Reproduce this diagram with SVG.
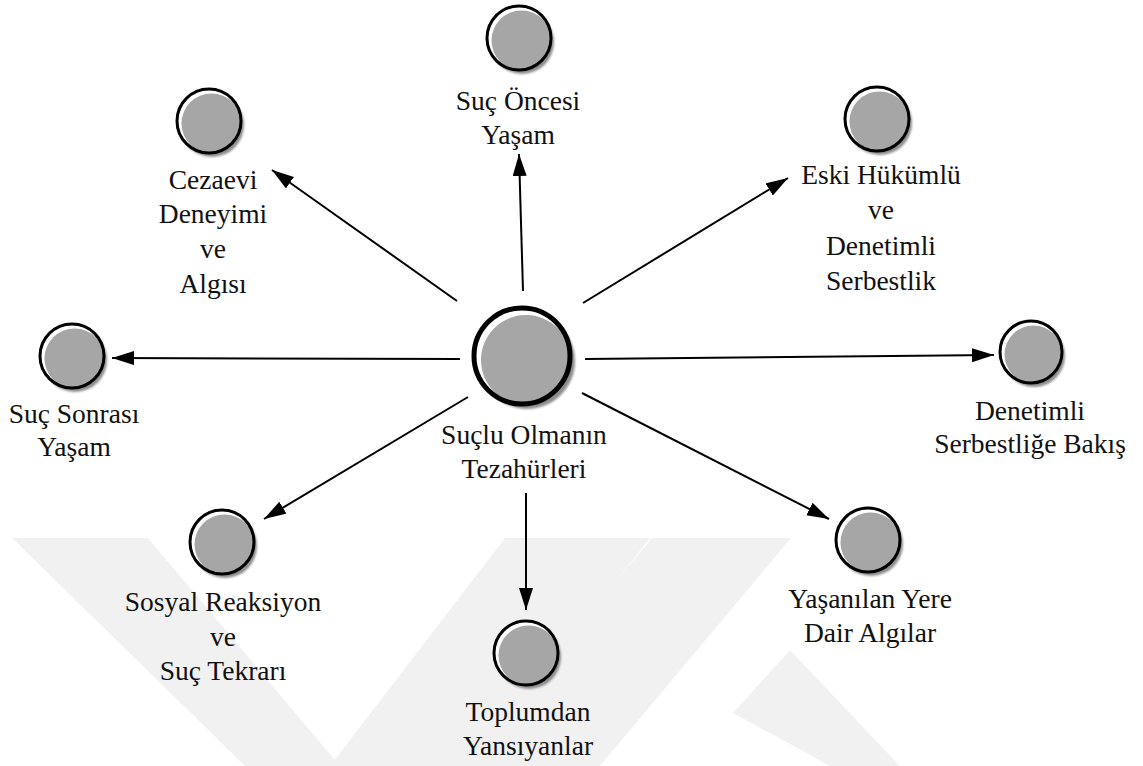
<svg xmlns="http://www.w3.org/2000/svg" width="1143" height="766" viewBox="0 0 1143 766" font-family="Liberation Serif, Times New Roman, serif" font-size="27.5">
<style>
text{fill:#111;text-anchor:middle}
.shadow{fill:#8c8c8c;filter:url(#blur)}
.hl{fill:#fff}
.core{fill:#a6a6a6}
.ring{fill:none;stroke:#000;stroke-width:3}
.ringB{fill:none;stroke:#000;stroke-width:5}
.edge{stroke:#000;stroke-width:2;fill:none;marker-end:url(#ah)}
.wm{fill:#f1f1f1}
</style>
<defs>
<filter id="blur" x="-20%" y="-20%" width="140%" height="140%"><feGaussianBlur stdDeviation="1.2"/></filter>
<marker id="ah" markerUnits="userSpaceOnUse" markerWidth="24" markerHeight="16" refX="22" refY="7" orient="auto"><path d="M0,0 L22,7 L0,14 z" fill="#000"/></marker>
</defs>
<rect width="1143" height="766" fill="#fff"/>
<g id="watermark">
<polygon class="wm" points="12,538 148,538 340,766 245,766"/>
<polygon class="wm" points="505,538 650,538 470,766 330,766"/>
<polygon class="wm" points="652,538 791,538 600,766 460,766"/>
<polygon class="wm" points="733,713 790,650 900,766 830,766"/>
</g>
<g id="connectors">
<line class="edge" x1="457" y1="301" x2="272" y2="170"/>
<line class="edge" x1="523" y1="291" x2="519" y2="154"/>
<line class="edge" x1="583" y1="303" x2="788" y2="178"/>
<line class="edge" x1="585" y1="359" x2="994" y2="355"/>
<line class="edge" x1="582" y1="393" x2="829" y2="519"/>
<line class="edge" x1="526" y1="493" x2="526" y2="610"/>
<line class="edge" x1="468" y1="397" x2="264" y2="519"/>
<line class="edge" x1="460" y1="359" x2="112" y2="358"/>
</g>
<g id="n-center">
<circle class="shadow" cx="527" cy="361" r="48"/>
<circle class="hl" cx="522" cy="356" r="48"/>
<circle class="core" cx="526" cy="360" r="45"/>
<circle class="ringB" cx="522" cy="356" r="48"/>
<text x="524" y="444">Suçlu Olmanın</text>
<text x="524" y="478">Tezahürleri</text>
</g>
<g id="n-cezaevi">
<circle class="shadow" cx="212" cy="125" r="32"/>
<circle class="hl" cx="209" cy="121" r="32"/>
<circle class="core" cx="211.5" cy="123.5" r="30"/>
<circle class="ring" cx="209" cy="121" r="32"/>
<text x="213" y="189">Cezaevi</text>
<text x="213" y="223">Deneyimi</text>
<text x="213" y="258">ve</text>
<text x="213" y="293">Algısı</text>
</g>
<g id="n-oncesi">
<circle class="shadow" cx="522" cy="42" r="32"/>
<circle class="hl" cx="519" cy="38" r="32"/>
<circle class="core" cx="521.5" cy="40.5" r="30"/>
<circle class="ring" cx="519" cy="38" r="32"/>
<text x="518" y="110">Suç Öncesi</text>
<text x="518" y="144">Yaşam</text>
</g>
<g id="n-eski">
<circle class="shadow" cx="880" cy="123" r="32"/>
<circle class="hl" cx="877" cy="119" r="32"/>
<circle class="core" cx="879.5" cy="121.5" r="30"/>
<circle class="ring" cx="877" cy="119" r="32"/>
<text x="881" y="184">Eski Hükümlü</text>
<text x="881" y="219">ve</text>
<text x="881" y="255">Denetimli</text>
<text x="881" y="290">Serbestlik</text>
</g>
<g id="n-denetimli">
<circle class="shadow" cx="1034" cy="356" r="31"/>
<circle class="hl" cx="1031" cy="352" r="31"/>
<circle class="core" cx="1033.5" cy="354.5" r="29"/>
<circle class="ring" cx="1031" cy="352" r="31"/>
<text x="1030" y="420">Denetimli</text>
<text x="1030" y="453">Serbestliğe Bakış</text>
</g>
<g id="n-yasanilan">
<circle class="shadow" cx="871" cy="544" r="32"/>
<circle class="hl" cx="868" cy="540" r="32"/>
<circle class="core" cx="870.5" cy="542.5" r="30"/>
<circle class="ring" cx="868" cy="540" r="32"/>
<text x="870" y="608">Yaşanılan Yere</text>
<text x="870" y="642">Dair Algılar</text>
</g>
<g id="n-toplumdan">
<circle class="shadow" cx="529" cy="657" r="32"/>
<circle class="hl" cx="526" cy="653" r="32"/>
<circle class="core" cx="528.5" cy="655.5" r="30"/>
<circle class="ring" cx="526" cy="653" r="32"/>
<text x="528" y="721">Toplumdan</text>
<text x="528" y="755">Yansıyanlar</text>
</g>
<g id="n-sosyal">
<circle class="shadow" cx="225" cy="546" r="32"/>
<circle class="hl" cx="222" cy="542" r="32"/>
<circle class="core" cx="224.5" cy="544.5" r="30"/>
<circle class="ring" cx="222" cy="542" r="32"/>
<text x="223" y="611">Sosyal Reaksiyon</text>
<text x="223" y="646">ve</text>
<text x="223" y="680">Suç Tekrarı</text>
</g>
<g id="n-sonrasi">
<circle class="shadow" cx="75" cy="360" r="32"/>
<circle class="hl" cx="72" cy="356" r="32"/>
<circle class="core" cx="74.5" cy="358.5" r="30"/>
<circle class="ring" cx="72" cy="356" r="32"/>
<text x="74" y="423">Suç Sonrası</text>
<text x="74" y="456">Yaşam</text>
</g>
</svg>
